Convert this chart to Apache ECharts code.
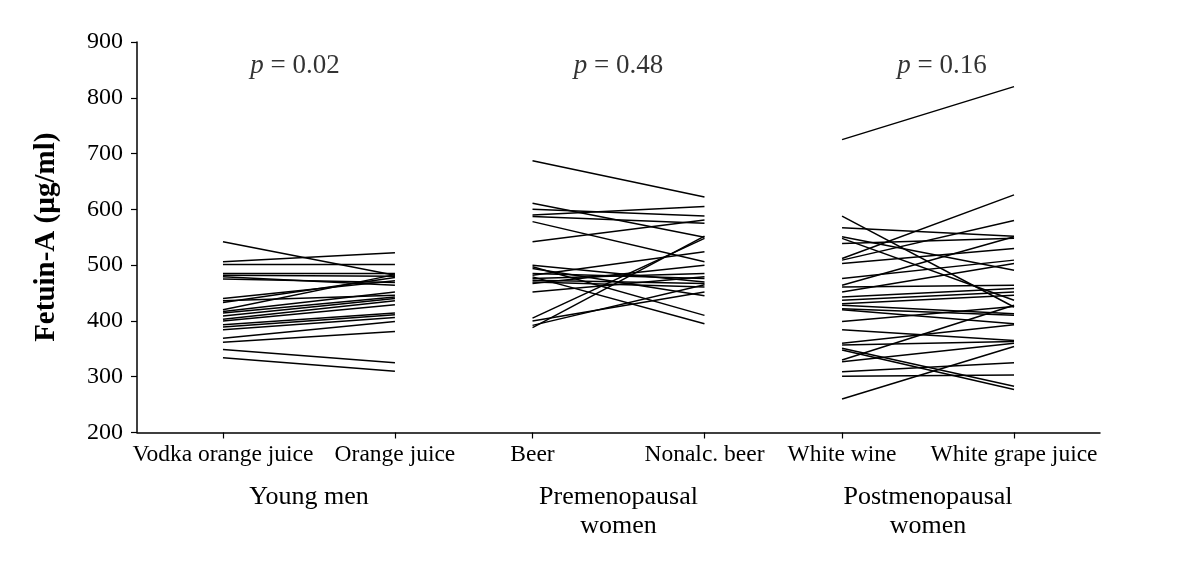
<!DOCTYPE html>
<html>
<head>
<meta charset="utf-8">
<script src="https://cdn.jsdelivr.net/npm/echarts@6/dist/echarts.min.js"></script>
<style>html,body{margin:0;padding:0;background:#fff}#c{width:1200px;height:566px}</style>
</head>
<body>
<div id="c"></div>
<script>
// ---- data ----
const categories = ['Vodka orange juice', 'Orange juice', 'Beer', 'Nonalc. beer', 'White wine', 'White grape juice'];
const groupNames = ['Young men', 'Premenopausal\nwomen', 'Postmenopausal\nwomen'];
const pValues = [0.02, 0.48, 0.16];
const yTicks = [200, 300, 400, 500, 600, 700, 800, 900];

const youngVodkaOJ = [542, 506, 501, 485, 482, 479, 475, 440, 436, 433, 420, 417, 414, 409, 403, 400, 393, 389, 384, 369, 362, 349, 334];
const youngOJ      = [482, 522, 501, 485, 480, 464, 469, 472, 446, 478, 483, 452, 443, 440, 436, 429, 414, 411, 406, 399, 381, 325, 310];

const premBeer     = [687, 611, 600, 590, 587, 578, 542, 500, 497, 494, 485, 482, 479, 476, 473, 470, 467, 452, 405, 400, 392, 388];
const premNonalc   = [622, 550, 588, 605, 575, 506, 581, 470, 410, 445, 476, 524, 395, 485, 467, 461, 500, 479, 548, 452, 465, 552];

const postWine     = [725, 588, 567, 551, 548, 539, 512, 509, 503, 476, 464, 461, 452, 443, 437, 431, 428, 422, 420, 399, 384, 360, 357, 351, 348, 330, 327, 309, 301, 260];
const postGrape    = [820, 425, 552, 491, 437, 548, 626, 580, 530, 509, 551, 464, 503, 458, 452, 446, 413, 410, 395, 426, 365, 393, 363, 283, 277, 428, 360, 325, 303, 354];

const groupsData = [[youngVodkaOJ, youngOJ], [premBeer, premNonalc], [postWine, postGrape]];

// ---- layout helpers ----
const xPos = (g, j) => 2.5 + 9 * g + 5 * j;
const catPositions = categories.map((c, i) => xPos(Math.floor(i / 2), i % 2));
const groupCenters = groupNames.map((n, g) => (xPos(g, 0) + xPos(g, 1)) / 2);
const pLabelShift = [-14, 0, 14];
const FONT = 'Liberation Serif';

const series = [];
groupsData.forEach((pair, g) => {
  pair[0].forEach((v, i) => {
    series.push({
      type: 'line',
      data: [[xPos(g, 0), v], [xPos(g, 1), pair[1][i]]],
      symbol: 'none',
      silent: true,
      lineStyle: { color: '#000', width: 1.5 },
      animation: false
    });
  });
});
series.push({
  type: 'scatter',
  data: groupCenters.map((x, g) => ({ value: [x, 858, g], label: { offset: [pLabelShift[g], 0] } })),
  symbolSize: 1,
  itemStyle: { color: 'transparent' },
  silent: true,
  animation: false,
  label: {
    show: true,
    position: 'inside',
    formatter: p => '{i|p} = ' + pValues[p.value[2]].toFixed(2),
    fontFamily: FONT, fontSize: 27, color: '#000',
    rich: { i: { fontFamily: FONT, fontSize: 27, fontStyle: 'italic', color: '#000' } }
  }
});

const chart = echarts.init(document.getElementById('c'), null, { renderer: 'canvas' });
chart.setOption({
  backgroundColor: '#fff',
  animation: false,
  grid: { left: 137, right: 100, top: 42, bottom: 133.5, containLabel: false },
  xAxis: [{
    type: 'value', min: 0, max: 28,
    axisLine: { show: true, lineStyle: { color: '#000', width: 1.5 } },
    axisTick: { show: true, customValues: catPositions, length: 6, inside: false, lineStyle: { color: '#000', width: 1.2 } },
    axisLabel: {
      show: true, customValues: catPositions, margin: 10,
      fontFamily: FONT, fontSize: 23.5, color: '#000',
      formatter: v => { const i = catPositions.findIndex(p => Math.abs(p - v) < 1e-6); return i >= 0 ? categories[i] : ''; }
    },
    splitLine: { show: false }
  }, {
    type: 'value', min: 0, max: 28, position: 'bottom',
    axisLine: { show: false }, axisTick: { show: false }, splitLine: { show: false },
    axisLabel: {
      show: true, customValues: groupCenters, margin: 50,
      fontFamily: FONT, fontSize: 26, color: '#000', lineHeight: 29, align: 'center',
      formatter: v => { const i = groupCenters.findIndex(p => Math.abs(p - v) < 1e-6); return i >= 0 ? groupNames[i] : ''; }
    }
  }],
  yAxis: {
    type: 'value', min: 200, max: 900, interval: 100,
    name: 'Fetuin-A (µg/ml)', nameLocation: 'middle', nameGap: 76, nameRotate: 90,
    nameTextStyle: { fontFamily: FONT, fontSize: 29, fontWeight: 'bold', color: '#000' },
    axisLine: { show: true, lineStyle: { color: '#000', width: 1.5 } },
    axisTick: { show: true, length: 6, lineStyle: { color: '#000', width: 1.2 } },
    axisLabel: { margin: 14, fontFamily: FONT, fontSize: 24, color: '#000',
      formatter: v => yTicks.includes(v) ? String(v) : '' },
    splitLine: { show: false }
  },
  series: series
});
</script>
</body>
</html>
